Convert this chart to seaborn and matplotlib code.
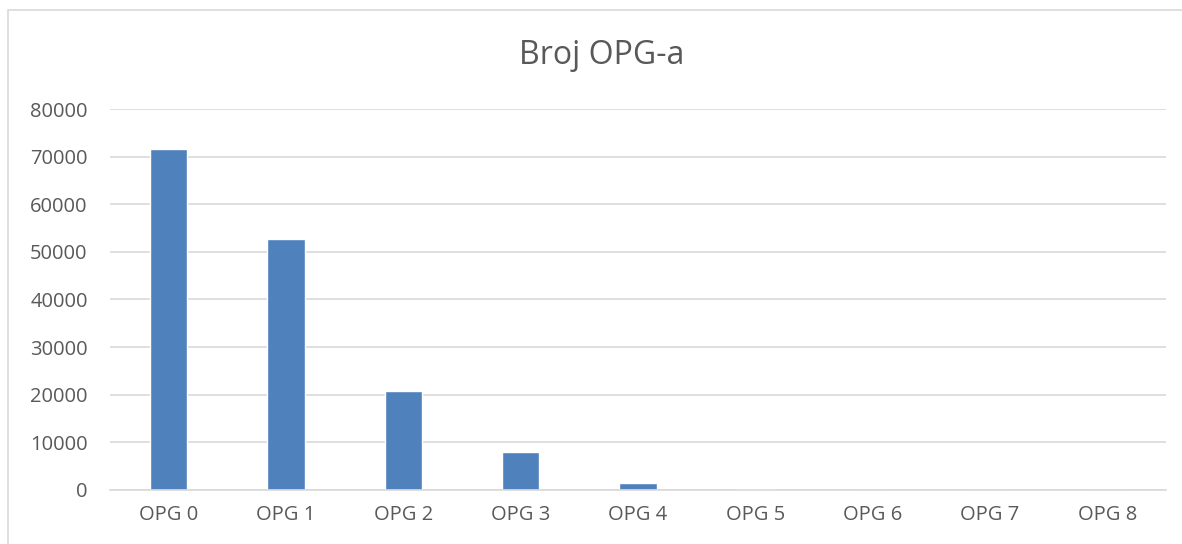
import pandas as pd
import matplotlib.pyplot as plt
import seaborn as sns
from matplotlib.patches import Rectangle

categories = ["OPG 0", "OPG 1", "OPG 2", "OPG 3", "OPG 4", "OPG 5", "OPG 6", "OPG 7", "OPG 8"]
counts = [71600, 52800, 20700, 7900, 1450, 300, 30, 5, 2]
yticks = [0, 10000, 20000, 30000, 40000, 50000, 60000, 70000, 80000]

df = pd.DataFrame(dict(category=categories, count=counts))

sns.set_theme(style="white")
plt.rcParams["font.family"] = ["Open Sans", "DejaVu Sans"]
grey = "#595959"

fig = plt.figure(figsize=(11.82, 5.44), dpi=100)
ax = fig.add_axes([0.093, 0.0993, 0.8935, 0.7003])

# chart area border (cut off at right and bottom)
fig.patches.append(
    Rectangle((8 / 1182, -0.1), 1.2, 1 - 10 / 544 + 0.1, transform=fig.transFigure,
              fill=False, edgecolor="#D9D9D9", linewidth=1.2)
)

sns.barplot(data=df, x="category", y="count", ax=ax, color="#4F81BD",
            saturation=1, width=0.32)

ax.set_ylim(0, 80000)
ax.set_xlim(-0.5, len(categories) - 0.5)
ax.set_yticks(yticks)
ax.set_yticklabels([str(t) for t in yticks])
ax.yaxis.grid(True, color="#D9D9D9", linewidth=1.2)
ax.set_axisbelow(True)
for s in ["top", "right", "left"]:
    ax.spines[s].set_visible(False)
ax.spines["bottom"].set_color("#D9D9D9")
ax.spines["bottom"].set_linewidth(1.2)
ax.tick_params(axis="both", length=0, labelsize=14.5, colors=grey)
ax.tick_params(axis="y", pad=16)
ax.tick_params(axis="x", pad=11)
ax.set(xlabel="", ylabel="")

fig.text(602 / 1182, 1 - 55 / 544, "Broj OPG-a", ha="center", va="center", fontsize=23, color=grey)

fig.savefig("out.png", dpi=100)
